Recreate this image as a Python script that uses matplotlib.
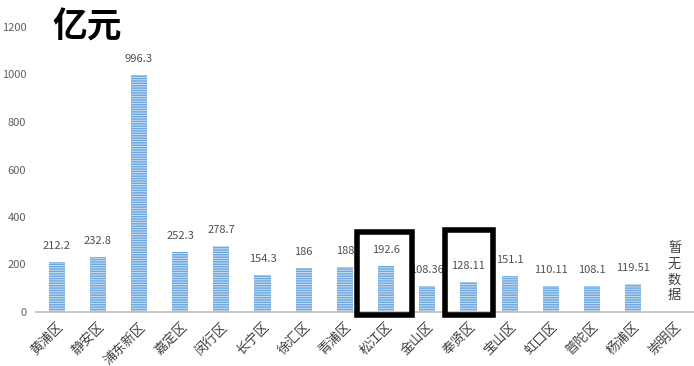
import matplotlib
matplotlib.use("Agg")
import matplotlib.pyplot as plt
from matplotlib.patches import Rectangle

plt.rcParams['font.family'] = ['Noto Sans CJK SC', 'DejaVu Sans']
plt.rcParams['hatch.linewidth'] = 0.7

districts = ['黄浦区', '静安区', '浦东新区', '嘉定区', '闵行区', '长宁区', '徐汇区', '青浦区',
             '松江区', '金山区', '奉贤区', '宝山区', '虹口区', '普陀区', '杨浦区', '崇明区']
values = [212.2, 232.8, 996.3, 252.3, 278.7, 154.3, 186, 188,
          192.6, 108.36, 128.11, 151.1, 110.11, 108.1, 119.51, None]
value_labels = ['212.2', '232.8', '996.3', '252.3', '278.7', '154.3', '186', '188',
                '192.6', '108.36', '128.11', '151.1', '110.11', '108.1', '119.51', '']
yticks = [0, 200, 400, 600, 800, 1000, 1200]
highlighted = ['松江区', '奉贤区']

fig = plt.figure(figsize=(6.94, 3.66), dpi=100)
ax = fig.add_axes([36/694, 54/366, 659/694, 285/366])

xs = list(range(len(districts)))
for x, v, lab in zip(xs, values, value_labels):
    if v is None:
        continue
    ax.bar(x, v, width=0.39, color='#6ea6de', edgecolor='#c9e0f6', linewidth=0,
           hatch='-------', zorder=2)
    ax.text(x, v + 46, lab, ha='center', va='bottom', fontsize=8, color='#505050')

# No data label for last
ax.text(xs[-1], 168, '暂\n无\n数\n据', ha='center', va='center', fontsize=9.5,
        color='#404040', linespacing=1.25)

ax.set_xlim(-0.5, len(districts) - 0.5)
ax.set_ylim(0, 1200)
ax.set_yticks(yticks)
ax.set_yticklabels([str(t) for t in yticks], fontsize=8, color='#606060')
ax.set_xticks(xs)
ax.set_xticklabels(districts, rotation=45, ha='right', rotation_mode='anchor',
                   fontsize=9.5, color='#404040')
ax.tick_params(axis='x', length=0, pad=6)
ax.tick_params(axis='y', length=0, pad=7)
for s in ['top', 'right', 'left']:
    ax.spines[s].set_visible(False)
ax.spines['bottom'].set_color('#bfbfbf')
ax.spines['bottom'].set_linewidth(1.2)

# highlight boxes
boxes = {'松江区': (-0.7, 0.62, 335), '奉贤区': (-0.58, 0.6, 345)}
for name in highlighted:
    i = districts.index(name)
    x0, x1, top = boxes[name]
    ax.add_patch(Rectangle((i + x0, -14), x1 - x0, top + 14, fill=False,
                           edgecolor='black', linewidth=4, clip_on=False, zorder=5))

fig.text(52/694, 1 - 27/366, '亿元', fontsize=25, fontweight='bold', va='center',
         ha='left', color='black')

fig.savefig('out.png', dpi=100)
